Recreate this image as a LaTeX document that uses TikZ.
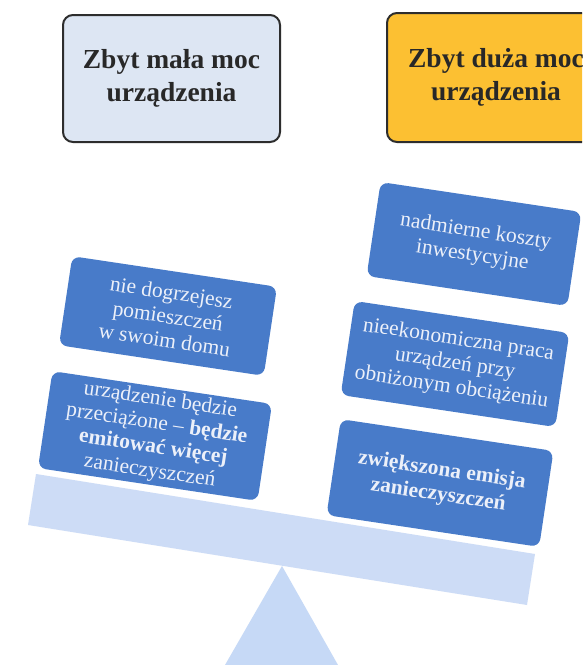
\documentclass[tikz,border=0pt]{standalone}
\usepackage{fontspec}
\setmainfont{Liberation Serif}
\definecolor{titleblue}{RGB}{221,230,243}
\definecolor{titleorange}{RGB}{252,192,50}
\definecolor{titleline}{RGB}{45,45,45}
\definecolor{titletext}{RGB}{40,40,40}
\definecolor{boxblue}{RGB}{72,123,201}
\definecolor{boxtext}{RGB}{236,240,249}
\definecolor{beamc}{RGB}{205,220,246}
\definecolor{fulcc}{RGB}{198,217,246}
\begin{document}
\begin{tikzpicture}[x=1pt,y=-1pt,
  titlebox/.style={rectangle, rounded corners=10pt, draw=titleline, line width=2pt,
    text=titletext, align=center, font=\fontsize{27.5}{33}\selectfont\bfseries},
  bluebox/.style={rectangle, rounded corners=8pt, fill=boxblue, text=boxtext,
    align=center, rotate=-8.5, inner sep=1pt, font=\fontsize{21.5}{24}\selectfont}]
\useasboundingbox (0,0) rectangle (582,665);
\clip (0,0) rectangle (582,665);
\fill[white] (0,0) rectangle (582,665);

% fulcrum and beam
\fill[fulcc] (282,566) -- (338,665) -- (225,665) -- cycle;
\fill[beamc] (36,474) -- (535,554) -- (527,605) -- (28,525) -- cycle;

% title boxes
\node[titlebox, fill=titleblue, minimum width=217pt, minimum height=127pt] (t1) at (171.5,78.5)
  {Zbyt mała moc\\urządzenia};
\node[titlebox, fill=titleorange, minimum width=218pt, minimum height=129pt] (t2) at (496,77.5)
  {Zbyt duża moc\\urządzenia};

% left boxes
\node[bluebox, minimum width=207pt, minimum height=90pt] (l1) at (168,316)
  {nie dogrzejesz\\pomieszczeń\\w swoim domu};
\node[bluebox, minimum width=222pt, minimum height=98pt] (l2) at (155,436)
  {urządzenie będzie\\przeciążone – \textbf{będzie}\\\textbf{emitować więcej}\\zanieczyszczeń};

% right boxes
\node[bluebox, minimum width=203pt, minimum height=95pt] (r1) at (474,244)
  {nadmierne koszty\\inwestycyjne};
\node[bluebox, minimum width=217pt, minimum height=95pt] (r2) at (455,364)
  {nieekonomiczna praca\\urządzeń przy\\obniżonym obciążeniu};
\node[bluebox, minimum width=215pt, minimum height=97pt, font=\fontsize{21.5}{25}\selectfont\bfseries] (r3) at (440,483)
  {zwiększona emisja\\zanieczyszczeń};
\end{tikzpicture}
\end{document}
